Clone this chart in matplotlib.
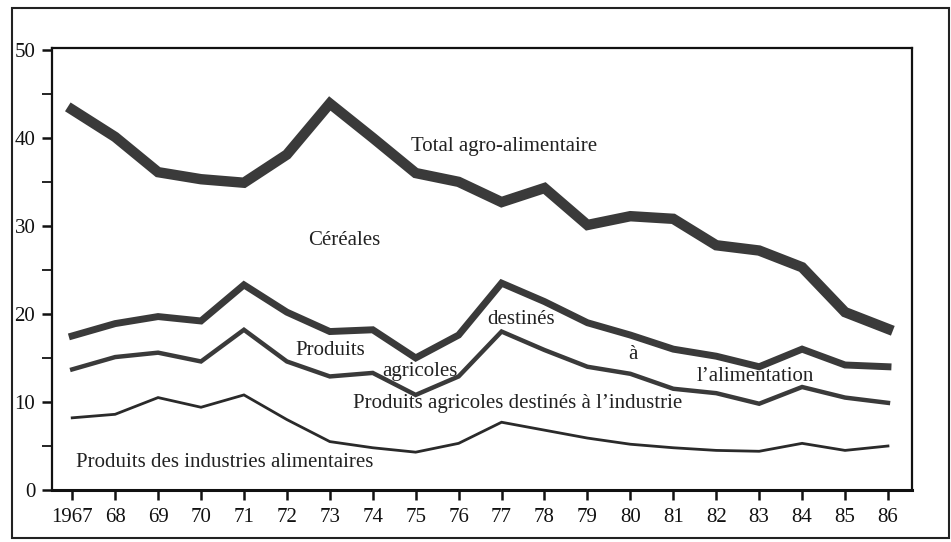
import numpy as np
import matplotlib
matplotlib.use('Agg')
import matplotlib.pyplot as plt
from matplotlib.patches import Rectangle

plt.rcParams['font.family'] = ['Liberation Serif', 'DejaVu Serif']

# years on the x axis
years = list(range(1967, 1987))
year_labels = ['1967'] + [str(y)[2:] for y in years[1:]]

# values (%)
total = [43.2, 40.1, 36.1, 35.3, 34.9, 38.1, 43.9, 40.0, 36.0, 35.0,
         32.7, 34.3, 30.1, 31.1, 30.8, 27.8, 27.2, 25.3, 20.2, 18.3]
cereales = [17.5, 18.9, 19.7, 19.2, 23.3, 20.2, 18.0, 18.2, 15.0, 17.6,
            23.5, 21.4, 19.0, 17.6, 16.0, 15.2, 14.0, 16.0, 14.2, 14.0]
alimentation = [13.7, 15.1, 15.6, 14.6, 18.2, 14.6, 12.9, 13.3, 10.8, 12.9,
                18.0, 15.9, 14.0, 13.2, 11.5, 11.0, 9.8, 11.7, 10.5, 9.9]
industrie = [8.2, 8.6, 10.5, 9.4, 10.8, 8.0, 5.5, 4.8, 4.3, 5.3,
             7.7, 6.8, 5.9, 5.2, 4.8, 4.5, 4.4, 5.3, 4.5, 5.0]

ink = '#3a3a3a'

fig = plt.figure(figsize=(9.51, 5.42), dpi=100)
ax = fig.add_axes([0.0547, 0.0959, 0.9043, 0.8155])

ax.plot(years, total, color=ink, lw=7.5, solid_joinstyle='miter')
ax.plot(years, cereales, color=ink, lw=5.0, solid_joinstyle='miter')
ax.plot(years, alimentation, color=ink, lw=3.2, solid_joinstyle='miter')
ax.plot(years, industrie, color='#2a2a2a', lw=2.0, solid_joinstyle='miter')

ax.set_xlim(1966.53, 1986.56)
ax.set_ylim(0, 50.2)
ax.set_xticks(years)
ax.set_xticklabels(year_labels)
ax.set_yticks([0, 10, 20, 30, 40, 50])
ax.set_yticks([5, 15, 25, 35, 45], minor=True)
ax.tick_params(axis='both', direction='out', length=7, width=1.8,
               labelsize=15, color='#111111', labelcolor='#111111')
ax.tick_params(axis='y', which='minor', direction='out', length=7, width=1.2)
ax.tick_params(axis='x', pad=6)
ax.tick_params(axis='y', pad=5)
for s in ax.spines.values():
    s.set_linewidth(1.6)
    s.set_color('#111111')
ax.spines['bottom'].set_linewidth(2.2)

txt = dict(fontsize=15, color='#222222', ha='left', va='center')
ax.text(1974.9, 39.0, 'Total agro-alimentaire', **txt)
ax.text(1972.5, 28.3, 'Céréales', **txt)
ax.text(1972.2, 15.8, 'Produits', **txt)
ax.text(1974.23, 13.45, 'agricoles', **txt)
ax.text(1976.66, 19.4, 'destinés', **txt)
ax.text(1979.94, 15.4, 'à', **txt)
ax.text(1981.55, 12.9, 'l\u2019alimentation', **txt)
ax.text(1973.53, 9.8, 'Produits agricoles destinés à l\u2019industrie', **txt)
ax.text(1967.1, 3.1, 'Produits des industries alimentaires', **txt)

# outer frame of the scanned figure
fig.patches.append(Rectangle((12 / 951, 4 / 542), 937 / 951, 530 / 542,
                             transform=fig.transFigure, fill=False,
                             lw=1.5, ec='#222222'))

fig.savefig('out.png', dpi=100)
